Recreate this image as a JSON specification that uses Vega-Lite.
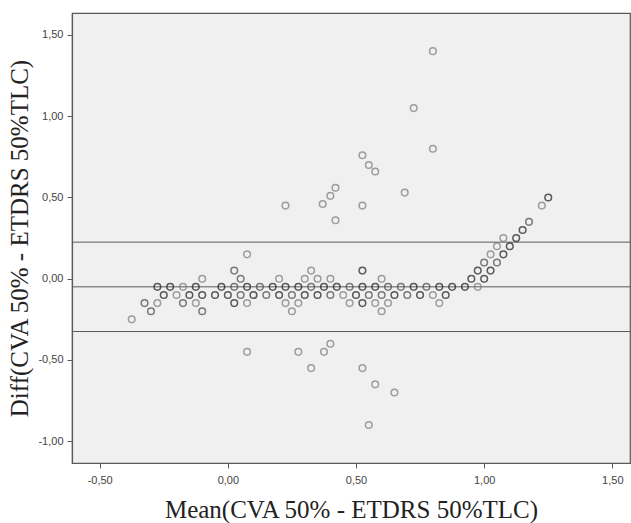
{
  "$schema": "https://vega.github.io/schema/vega-lite/v6.json",
  "width": 558,
  "height": 450,
  "autosize": "none",
  "padding": {"left": 72, "top": 13, "right": 1, "bottom": 60},
  "background": "white",
  "config": {
    "locale": {"number": {"decimal": ",", "thousands": ".", "grouping": [3], "currency": ["", ""], "minus": "-"}},
    "view": {"fill": "#f0f0f0", "stroke": "#5a5a5a", "strokeWidth": 1.2},
    "axis": {
      "grid": false,
      "domainColor": "#5a5a5a",
      "domainWidth": 1.2,
      "tickColor": "#5a5a5a",
      "tickSize": 5,
      "labelFont": "Liberation Sans",
      "labelFontSize": 11,
      "labelColor": "#444",
      "titleFont": "Liberation Serif",
      "titleFontWeight": "normal",
      "titleFontSize": 25,
      "titleColor": "#222"
    }
  },
  "datasets": {
    "points": [
      {"mean": 0.80, "diff": 1.40, "n": 1},
      {"mean": 0.725, "diff": 1.05, "n": 1},
      {"mean": 0.80, "diff": 0.80, "n": 1},
      {"mean": 0.525, "diff": 0.76, "n": 1},
      {"mean": 0.55, "diff": 0.70, "n": 1},
      {"mean": 0.575, "diff": 0.66, "n": 1},
      {"mean": 0.42, "diff": 0.56, "n": 1},
      {"mean": 0.40, "diff": 0.51, "n": 1},
      {"mean": 0.37, "diff": 0.46, "n": 1},
      {"mean": 0.225, "diff": 0.45, "n": 1},
      {"mean": 0.525, "diff": 0.45, "n": 1},
      {"mean": 0.42, "diff": 0.36, "n": 1},
      {"mean": 0.69, "diff": 0.53, "n": 1},
      {"mean": -0.375, "diff": -0.25, "n": 1},
      {"mean": 0.075, "diff": -0.45, "n": 1},
      {"mean": 0.275, "diff": -0.45, "n": 1},
      {"mean": 0.375, "diff": -0.45, "n": 1},
      {"mean": 0.40, "diff": -0.40, "n": 1},
      {"mean": 0.325, "diff": -0.55, "n": 1},
      {"mean": 0.525, "diff": -0.55, "n": 1},
      {"mean": 0.575, "diff": -0.65, "n": 1},
      {"mean": 0.65, "diff": -0.70, "n": 1},
      {"mean": 0.55, "diff": -0.90, "n": 1},
      {"mean": 0.075, "diff": 0.15, "n": 1},
      {"mean": 0.025, "diff": 0.05, "n": 2},
      {"mean": 0.325, "diff": 0.05, "n": 1},
      {"mean": 0.525, "diff": 0.05, "n": 3},
      {"mean": 0.975, "diff": 0.05, "n": 3},
      {"mean": 1.025, "diff": 0.05, "n": 3},
      {"mean": -0.1, "diff": 0, "n": 1},
      {"mean": 0.05, "diff": 0, "n": 2},
      {"mean": 0.2, "diff": 0, "n": 1},
      {"mean": 0.3, "diff": 0, "n": 1},
      {"mean": 0.35, "diff": 0, "n": 1},
      {"mean": 0.4, "diff": 0, "n": 1},
      {"mean": 0.6, "diff": 0, "n": 1},
      {"mean": 0.95, "diff": 0, "n": 3},
      {"mean": 1.0, "diff": 0, "n": 3},
      {"mean": 1.0, "diff": 0.1, "n": 2},
      {"mean": 1.025, "diff": 0.15, "n": 1},
      {"mean": 1.05, "diff": 0.1, "n": 2},
      {"mean": 1.05, "diff": 0.2, "n": 1},
      {"mean": 1.075, "diff": 0.15, "n": 3},
      {"mean": 1.075, "diff": 0.25, "n": 1},
      {"mean": 1.1, "diff": 0.2, "n": 3},
      {"mean": 1.125, "diff": 0.25, "n": 3},
      {"mean": 1.15, "diff": 0.3, "n": 3},
      {"mean": 1.175, "diff": 0.35, "n": 2},
      {"mean": 1.225, "diff": 0.45, "n": 1},
      {"mean": 1.25, "diff": 0.5, "n": 3},
      {"mean": -0.275, "diff": -0.05, "n": 3},
      {"mean": -0.225, "diff": -0.05, "n": 3},
      {"mean": -0.175, "diff": -0.05, "n": 1},
      {"mean": -0.125, "diff": -0.05, "n": 3},
      {"mean": -0.025, "diff": -0.05, "n": 3},
      {"mean": 0.025, "diff": -0.05, "n": 2},
      {"mean": 0.075, "diff": -0.05, "n": 3},
      {"mean": 0.125, "diff": -0.05, "n": 2},
      {"mean": 0.175, "diff": -0.05, "n": 3},
      {"mean": 0.225, "diff": -0.05, "n": 3},
      {"mean": 0.275, "diff": -0.05, "n": 3},
      {"mean": 0.325, "diff": -0.05, "n": 2},
      {"mean": 0.375, "diff": -0.05, "n": 3},
      {"mean": 0.425, "diff": -0.05, "n": 3},
      {"mean": 0.475, "diff": -0.05, "n": 2},
      {"mean": 0.525, "diff": -0.05, "n": 3},
      {"mean": 0.575, "diff": -0.05, "n": 3},
      {"mean": 0.625, "diff": -0.05, "n": 2},
      {"mean": 0.675, "diff": -0.05, "n": 2},
      {"mean": 0.725, "diff": -0.05, "n": 3},
      {"mean": 0.775, "diff": -0.05, "n": 2},
      {"mean": 0.825, "diff": -0.05, "n": 3},
      {"mean": 0.875, "diff": -0.05, "n": 3},
      {"mean": 0.925, "diff": -0.05, "n": 3},
      {"mean": 0.975, "diff": -0.05, "n": 1},
      {"mean": -0.25, "diff": -0.1, "n": 3},
      {"mean": -0.2, "diff": -0.1, "n": 1},
      {"mean": -0.15, "diff": -0.1, "n": 3},
      {"mean": -0.1, "diff": -0.1, "n": 3},
      {"mean": -0.05, "diff": -0.1, "n": 3},
      {"mean": 0.0, "diff": -0.1, "n": 3},
      {"mean": 0.05, "diff": -0.1, "n": 2},
      {"mean": 0.1, "diff": -0.1, "n": 3},
      {"mean": 0.15, "diff": -0.1, "n": 2},
      {"mean": 0.2, "diff": -0.1, "n": 3},
      {"mean": 0.25, "diff": -0.1, "n": 2},
      {"mean": 0.3, "diff": -0.1, "n": 3},
      {"mean": 0.35, "diff": -0.1, "n": 3},
      {"mean": 0.4, "diff": -0.1, "n": 2},
      {"mean": 0.45, "diff": -0.1, "n": 1},
      {"mean": 0.5, "diff": -0.1, "n": 3},
      {"mean": 0.55, "diff": -0.1, "n": 2},
      {"mean": 0.6, "diff": -0.1, "n": 2},
      {"mean": 0.65, "diff": -0.1, "n": 3},
      {"mean": 0.7, "diff": -0.1, "n": 2},
      {"mean": 0.75, "diff": -0.1, "n": 3},
      {"mean": 0.8, "diff": -0.1, "n": 1},
      {"mean": 0.85, "diff": -0.1, "n": 3},
      {"mean": -0.325, "diff": -0.15, "n": 2},
      {"mean": -0.275, "diff": -0.15, "n": 1},
      {"mean": -0.175, "diff": -0.15, "n": 2},
      {"mean": -0.125, "diff": -0.15, "n": 1},
      {"mean": 0.025, "diff": -0.15, "n": 3},
      {"mean": 0.075, "diff": -0.15, "n": 1},
      {"mean": 0.225, "diff": -0.15, "n": 1},
      {"mean": 0.275, "diff": -0.15, "n": 1},
      {"mean": 0.475, "diff": -0.15, "n": 1},
      {"mean": 0.525, "diff": -0.15, "n": 3},
      {"mean": 0.575, "diff": -0.15, "n": 1},
      {"mean": 0.625, "diff": -0.15, "n": 1},
      {"mean": 0.825, "diff": -0.15, "n": 1},
      {"mean": -0.3, "diff": -0.2, "n": 2},
      {"mean": -0.1, "diff": -0.2, "n": 2},
      {"mean": 0.25, "diff": -0.2, "n": 1},
      {"mean": 0.6, "diff": -0.2, "n": 1}
    ],
    "lines": [
      {"value": 0.225},
      {"value": -0.05},
      {"value": -0.325}
    ]
  },
  "layer": [
    {
      "data": {"name": "lines"},
      "mark": {"type": "rule", "color": "#5a5a5a", "strokeWidth": 1},
      "encoding": {
        "y": {"field": "value", "type": "quantitative", "scale": {"domain": [-1.134, 1.635], "nice": false, "zero": false}}
      }
    },
    {
      "data": {"name": "points"},
      "mark": {"type": "point", "shape": "circle", "filled": false, "size": 44, "strokeWidth": 1.5},
      "encoding": {
        "x": {
          "field": "mean", "type": "quantitative",
          "title": "Mean(CVA 50% - ETDRS 50%TLC)",
          "scale": {"domain": [-0.608, 1.569], "nice": false, "zero": false},
          "axis": {"values": [-0.5, 0, 0.5, 1, 1.5], "format": ".2f", "labelPadding": 6, "titlePadding": 12}
        },
        "y": {
          "field": "diff", "type": "quantitative",
          "title": "Diff(CVA 50% - ETDRS 50%TLC)",
          "scale": {"domain": [-1.134, 1.635], "nice": false, "zero": false},
          "axis": {"values": [-1, -0.5, 0, 0.5, 1, 1.5], "format": ".2f", "labelPadding": 4, "titlePadding": 5}
        },
        "stroke": {
          "field": "n", "type": "quantitative",
          "scale": {"domain": [1, 3], "range": ["#7a7a7a", "#1a1a1a"]},
          "legend": null
        }
      }
    }
  ]
}
